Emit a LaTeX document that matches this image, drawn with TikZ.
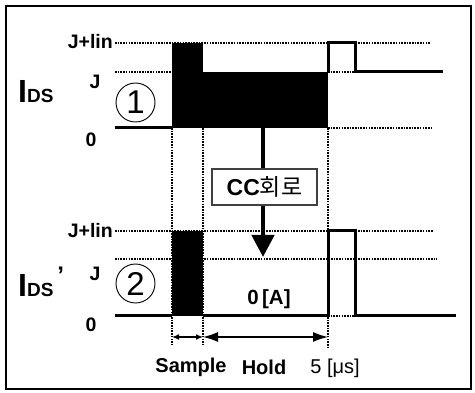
\documentclass[tikz,border=0pt]{standalone}
\usepackage{fontspec}
\setmainfont{Liberation Sans}
\newfontfamily\krfont{Noto Sans CJK KR}
\usetikzlibrary{arrows.meta}
\begin{document}
\begin{tikzpicture}[x=1pt,y=-1pt,
  sig/.style={line width=3pt, line join=miter},
  dotl/.style={line width=2pt, dash pattern=on 1.6pt off 1.1pt},
  blk/.style={fill=black},
  lbl/.style={font=\fontsize{19.5}{19.5}\selectfont\bfseries, inner sep=0pt},
  reg/.style={font=\fontsize{20}{20}\selectfont, inner sep=0pt},
  circ/.style={circle, draw, line width=0.9pt, minimum size=39pt, inner sep=0pt, font=\fontsize{33}{33}\selectfont},
  dimarr/.style={line width=1.3pt},
]
\useasboundingbox (0,0) rectangle (475,393);
\draw[line width=2pt] (6,6) rectangle (471,389);

% ---------- top panel ----------
\draw[dotl] (115,43) -- (430,43);
\draw[dotl] (115,72) -- (172,72);
\draw[dotl] (328,72) -- (355,72);
\draw[dotl] (328,128) -- (431,128);
% vertical guides
\draw[dotl] (172,128) -- (172,345);
\draw[dotl] (203,128) -- (203,345);
\draw[dotl] (328,128) -- (328,347);
\fill[blk] (172,43) rectangle (203,128);
\fill[blk] (203,72) rectangle (328,128);
\draw[sig] (115,128) -- (172,128);
\draw[sig] (328,72) -- (328,43) -- (355,43) -- (355,72) -- (443,72);

\node[lbl, anchor=east] (jl1) at (113,42) {J+lin};
\node[lbl] (j1) at (95,82) {J};
\node[lbl] (z1) at (91,140) {0};
\node[inner sep=0pt, anchor=base west, font=\bfseries] (ids1) at (18,103)
  {{\fontsize{32}{32}\selectfont I}{\fontsize{19}{19}\selectfont DS}};
\node[circ] (c1) at (135.5,102.5) {1};

% ---------- bottom panel ----------
\draw[dotl] (115,231) -- (433,231);
\draw[dotl] (115,259) -- (437,259);
\draw[dotl] (328,316) -- (355,316);
\fill[blk] (172,231) rectangle (203,316);
\draw[sig] (115,316) -- (172,316);
\draw[sig] (203,316) -- (328,316) -- (328,231) -- (355,231) -- (355,316) -- (456,316);

\node[lbl, anchor=east] (jl2) at (113,231) {J+lin};
\node[lbl] (j2) at (95,274) {J};
\node[lbl] (z2) at (91,325) {0};
\node[inner sep=0pt, anchor=base west, font=\bfseries] (ids2) at (18,297)
  {{\fontsize{32}{32}\selectfont I}{\fontsize{19}{19}\selectfont DS}\raisebox{13pt}{\fontsize{24}{24}\selectfont\,’}};
\node[circ] (c2) at (135.5,283.5) {2};

\node[lbl, font=\fontsize{20.5}{20.5}\selectfont\bfseries] (zeroA) at (269,299) {0\,[A]};

% ---------- CC circuit arrow ----------
\coordinate (src) at (263,128);
\coordinate (dst) at (263,257);
\node[draw=black!75, line width=1.5pt, minimum width=105pt, minimum height=36pt, inner sep=0pt,
  fill=white, font=\fontsize{23}{23}\selectfont] (cc) at (264.5,187)
  {\textbf{CC}{\krfont 회로}};
\draw[line width=4.5pt] (src) -- (src |- cc.north);
\draw[line width=4.5pt, -{Triangle[width=22pt,length=22pt]}] (dst |- cc.south) -- (dst);

% ---------- time dimensions ----------
\coordinate (s1) at (172,337);
\coordinate (s2) at (203,337);
\coordinate (h2) at (328,337);
\draw[dimarr, {Latex[length=7pt,width=6pt]}-{Latex[length=7pt,width=6pt]}] (s1) -- (s2);
\draw[dimarr, {Latex[length=15pt,width=10pt]}-{Latex[length=15pt,width=10pt]}] (s2) -- (h2);

\node[lbl, font=\fontsize{20}{20}\selectfont\bfseries] (smp) at (191,367) {Sample};
\node[lbl, font=\fontsize{20}{20}\selectfont\bfseries] (hld) at (264,367) {Hold};
\node[reg] (us) at (335,368) {5 [μs]};
\end{tikzpicture}
\end{document}
